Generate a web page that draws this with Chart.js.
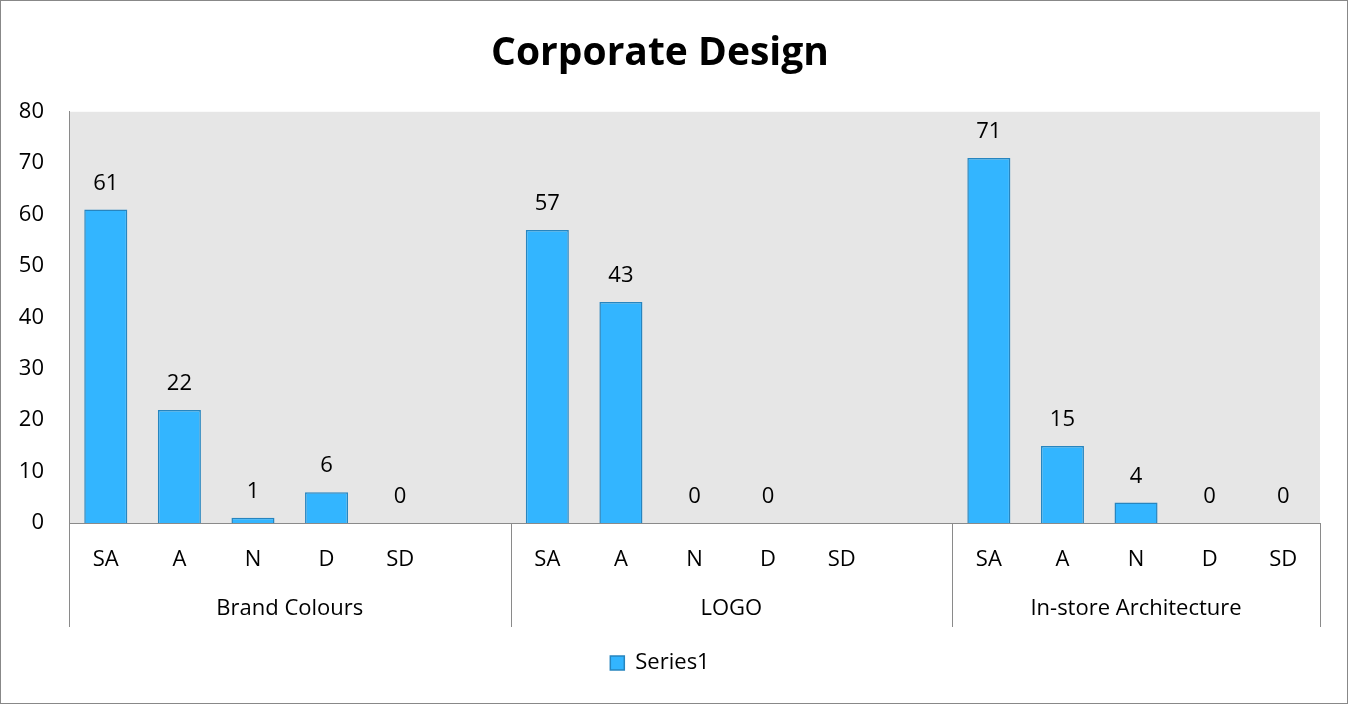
<!DOCTYPE html>
<html>
<head>
<meta charset="utf-8">
<script src="https://cdn.jsdelivr.net/npm/chart.js@4.4.1/dist/chart.umd.min.js"></script>
<style>
  html, body { margin: 0; padding: 0; background: #fff; overflow: hidden; }
  #wrap { width: 1348px; height: 704px; }
</style>
</head>
<body>
<div id="wrap"><canvas id="c" width="1348" height="704"></canvas></div>
<script>
// Response categories (blank slots keep a gap between the three topics)
const responses = ['SA', 'A', 'N', 'D', 'SD', '', 'SA', 'A', 'N', 'D', 'SD', '', 'SA', 'A', 'N', 'D', 'SD'];
// Topic groups and the first/last category index each one covers
const groups = ['Brand Colours', 'LOGO', 'In-store Architecture'];
const groupStart = [0, 6, 12];
const groupEnd = [5, 11, 16];
// Counts per response
const series1 = [61, 22, 1, 6, 0, null, 57, 43, 0, 0, null, null, 71, 15, 4, 0, 0];
// Value axis
const yMin = 0;
const yMax = 80;
const yStep = 10;

const FONT = '"Open Sans", Lato, sans-serif';
const TEXT_SIZE = 22;
const AXIS_GREY = '#8a8a8a';

const decor = {
  id: 'decor',
  beforeDraw(chart) {
    const { ctx, chartArea: a } = chart;
    ctx.save();
    ctx.fillStyle = '#ffffff';
    ctx.fillRect(0, 0, chart.width, chart.height);
    ctx.fillStyle = '#e6e6e6';
    ctx.fillRect(a.left, a.top, a.right - a.left, a.bottom - a.top);
    ctx.restore();
  },
  afterDraw(chart) {
    const { ctx, chartArea: a } = chart;
    const xs = chart.scales.x;
    const slot = (xs.right - xs.left) / responses.length;
    const sepBottom = 627;
    ctx.save();
    // group separators below the axis
    ctx.strokeStyle = AXIS_GREY;
    ctx.lineWidth = 1;
    const edges = groupStart.map(i => xs.getPixelForValue(i) - slot / 2);
    edges.push(xs.getPixelForValue(groupEnd[groupEnd.length - 1]) + slot / 2);
    edges.forEach(x => {
      const px = Math.round(x) + 0.5;
      ctx.beginPath();
      ctx.moveTo(px, a.bottom);
      ctx.lineTo(px, sepBottom);
      ctx.stroke();
    });
    // group names
    ctx.fillStyle = '#000';
    ctx.font = TEXT_SIZE + 'px ' + FONT;
    ctx.textAlign = 'center';
    ctx.textBaseline = 'middle';
    groups.forEach((g, k) => {
      const x0 = xs.getPixelForValue(groupStart[k]) - slot / 2;
      const x1 = k < groups.length - 1 ? xs.getPixelForValue(groupStart[k + 1]) - slot / 2
                                        : xs.getPixelForValue(groupEnd[k]) + slot / 2;
      ctx.fillText(g, (x0 + x1) / 2, 609);
    });
    // value labels above bars
    const meta = chart.getDatasetMeta(0);
    meta.data.forEach((bar, i) => {
      const v = series1[i];
      if (v === null || v === undefined) return;
      ctx.fillText(String(v), bar.x, bar.y - 26);
    });
    // outer frame
    ctx.strokeStyle = '#888888';
    ctx.strokeRect(0.5, 0.5, chart.width - 1, chart.height - 1);
    ctx.restore();
  }
};

new Chart(document.getElementById('c'), {
  type: 'bar',
  data: {
    labels: responses,
    datasets: [{
      label: 'Series1',
      data: series1,
      backgroundColor: '#33b5ff',
      borderColor: '#2785bf',
      borderWidth: 1.5,
      categoryPercentage: 1,
      barPercentage: 0.585
    }]
  },
  options: {
    responsive: false,
    animation: false,
    devicePixelRatio: 1,
    layout: { padding: { left: 0, right: 28, top: 0, bottom: 20 } },
    plugins: {
      title: {
        display: true,
        text: 'Corporate Design',
        color: '#000',
        font: { family: FONT, size: 39, weight: 'bold', lineHeight: 1.2 },
        padding: { top: 30, bottom: 35 }
      },
      legend: {
        display: true,
        position: 'bottom',
        labels: {
          color: '#000',
          font: { family: FONT, size: TEXT_SIZE },
          boxWidth: 14,
          boxHeight: 14,
          padding: 10
        }
      },
      tooltip: { enabled: false }
    },
    scales: {
      x: {
        grid: { display: false, drawTicks: false },
        border: { display: true, color: AXIS_GREY, width: 1 },
        ticks: {
          color: '#000',
          font: { family: FONT, size: TEXT_SIZE },
          padding: 24,
          maxRotation: 0,
          autoSkip: false
        },
        afterFit(scale) { scale.height = 119; }
      },
      y: {
        min: yMin,
        max: yMax,
        grid: { display: false, drawTicks: false },
        border: { display: true, color: AXIS_GREY, width: 1 },
        ticks: {
          stepSize: yStep,
          color: '#000',
          font: { family: FONT, size: TEXT_SIZE },
          padding: 25
        },
        afterFit(scale) { scale.width = 69; }
      }
    }
  },
  plugins: [decor]
});
</script>
</body>
</html>
